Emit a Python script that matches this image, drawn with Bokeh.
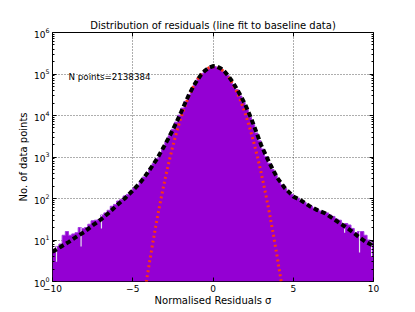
import numpy as np
from bokeh.plotting import figure
from bokeh.models import LinearAxis, LogAxis, Label, FixedTicker, CustomJSTickFormatter
from bokeh.embed import file_html
from bokeh.resources import INLINE

# ---- data ----
bin_lo = -10.0
bin_width = 0.2
counts = [6, 7, 8, 13, 16, 13, 14, 15, 20, 19,
          20, 24, 29, 30, 31, 40, 45, 52, 65, 72,
          87, 96, 115, 126, 151, 182, 209, 263, 331, 417,
          525, 692, 912, 1230, 1660, 2290, 3240, 4680, 6920, 10200,
          15100, 21900, 31600, 44700, 61700, 81300, 102000, 123000, 138000, 148000,
          151000, 145000, 132000, 115000, 93300, 74100, 56200, 41700, 29500, 20900,
          14100, 9120, 6030, 3800, 2450, 1550, 1020, 708, 501, 363,
          275, 214, 174, 145, 126, 112, 102, 89, 81, 72,
          66, 59, 55, 50, 47, 45, 40, 37, 32, 30,
          21, 25, 23, 19, 15, 16, 16, 13, 10, 9]

dip_x = [-9.75, -8.22, -6.95, 8.2, 9.13, 9.88]
dip_low = [3, 7, 19, 15, 5, 4]

fit_x = [-10, -9.5, -9, -8.5, -8, -7.5, -7, -6.5, -6, -5.5, -5, -4.5, -4, -3.5, -3,
         -2.75, -2.5, -2.25, -2, -1.75, -1.5, -1.25, -1, -0.75, -0.5, -0.25, 0,
         0.25, 0.5, 0.75, 1, 1.25, 1.5, 1.75, 2, 2.25, 2.5, 2.75,
         3, 3.5, 4, 4.5, 5, 5.5, 6, 6.5, 7, 7.5, 8, 8.5, 9, 9.5, 10]
fit_y = [5.2, 6.8, 8.9, 12, 15.8, 22.4, 30.9, 44.7, 67.6, 100, 155, 251, 457, 891, 1950,
         2950, 4570, 7240, 11700, 19500, 31600, 47900, 69200, 95500, 120000, 141000, 155000,
         151000, 135000, 112000, 85100, 61700, 42700, 28800, 18600, 11200, 6460, 3550,
         1950, 741, 316, 174, 112, 89.1, 66.1, 52.5, 43.7, 32.4, 24.0, 17.8, 12.6, 9.1, 7.2]

gauss_x = [-4.25, -4.0, -3.75, -3.5, -3.25, -3.0, -2.75, -2.5, -2.25, -2.0, -1.75, -1.5,
           -1.25, -1.0, -0.75, -0.5, -0.25, 0.0, 0.25, 0.5, 0.75, 1.0, 1.25, 1.5, 1.75,
           2.0, 2.25, 2.5, 2.75, 3.0, 3.25, 3.5, 3.75, 4.0, 4.25]
gauss_y = [0.56, 2.3, 8.6, 30, 95, 279, 748, 1850, 4200, 8750, 16800, 29600,
           47900, 71100, 97200, 122000, 141000, 150000, 146000, 131000, 108000, 81500, 56600, 36200, 21200,
           11500, 5690, 2590, 1090, 418, 148, 48, 14.4, 3.9, 0.99]

n_points_label = "N points=2138384"
title = "Distribution of residuals (line fit to baseline data)"
x_label = "Normalised Residuals σ"
y_label = "No. of data points"
x_ticks = [-10, -5, 0, 5, 10]
y_ticks = [1, 10, 100, 1000, 10000, 100000, 1000000]

# ---- derived ----
edges = bin_lo + bin_width * np.arange(len(counts) + 1)
step_y = list(counts) + [counts[-1]]
dip_idx = np.clip(np.searchsorted(edges, dip_x) - 1, 0, len(counts) - 1)
dip_top = [counts[i] for i in dip_idx]
y_minor = [m * 10 ** k for k in range(6) for m in range(2, 10)]

FONT = "DejaVu Sans"
PURPLE = "#9400D3"

p = figure(frame_width=321, frame_height=249, output_backend="svg", toolbar_location=None,
           y_axis_type="log", x_range=(-10, 10), y_range=(1, 1e6),
           min_border_left=52, min_border_right=30, min_border_top=32, min_border_bottom=24)

p.title.text = title
p.title.align = "center"
p.title.text_font = FONT
p.title.text_font_size = "10px"
p.title.text_font_style = "normal"
p.title.text_color = "black"
p.title.standoff = 4

p.varea_step(x=edges, y1=[1] * len(edges), y2=step_y, step_mode="after", fill_color=PURPLE)
p.step(x=edges, y=step_y, mode="after", line_color="#a23ae0", line_width=1)
p.segment(x0=dip_x, x1=dip_x, y0=dip_low, y1=dip_top, line_color="#e4e4ee", line_width=1.2)

p.line(gauss_x, gauss_y, line_color="#ff3311", line_width=3, line_dash="2 3")
p.line(fit_x, fit_y, line_color="black", line_width=4, line_dash="5 3")

p.add_layout(Label(x=-9.0, y=83000, text=n_points_label, text_font=FONT,
                   text_font_size="8.7px", text_baseline="middle", text_color="black"))

for g in (p.xgrid, p.ygrid):
    g.grid_line_color = "#333333"
    g.grid_line_dash = "1 2"
    g.grid_line_width = 0.8

p.outline_line_color = "black"
p.outline_line_width = 1

p.xaxis.ticker = FixedTicker(ticks=x_ticks)
p.xaxis.formatter = CustomJSTickFormatter(code="return String(tick).replace('-', '\\u2212')")
p.yaxis.ticker = FixedTicker(ticks=y_ticks, minor_ticks=y_minor)
p.xgrid.ticker = FixedTicker(ticks=x_ticks)
p.ygrid.ticker = FixedTicker(ticks=y_ticks)

for ax in p.xaxis + p.yaxis:
    ax.major_tick_in = 4
    ax.major_tick_out = 0
    ax.minor_tick_in = 2
    ax.minor_tick_out = 0
    ax.axis_line_color = None
    ax.major_label_text_font = FONT
    ax.major_label_text_font_size = "9px"
    ax.major_label_text_color = "black"
    ax.axis_label_text_font = FONT
    ax.axis_label_text_font_size = "10px"
    ax.axis_label_text_font_style = "normal"
    ax.axis_label_text_color = "black"
    ax.major_label_standoff = 3
    ax.axis_label_standoff = 2
p.xaxis.axis_label_standoff = 0
p.xaxis.minor_tick_line_color = None
p.xaxis.axis_label = x_label
p.yaxis.axis_label = y_label

blank = CustomJSTickFormatter(code="return ''")
top = LinearAxis(ticker=FixedTicker(ticks=x_ticks), formatter=blank, major_tick_in=4, major_tick_out=0,
                 minor_tick_line_color=None, axis_line_color=None, major_label_standoff=0)
right = LogAxis(ticker=FixedTicker(ticks=y_ticks, minor_ticks=y_minor), formatter=blank,
                major_tick_in=4, major_tick_out=0, minor_tick_in=2, minor_tick_out=0,
                axis_line_color=None, major_label_standoff=0)
p.add_layout(top, "above")
p.add_layout(right, "right")

open("out.html", "w").write(file_html(p, INLINE))
